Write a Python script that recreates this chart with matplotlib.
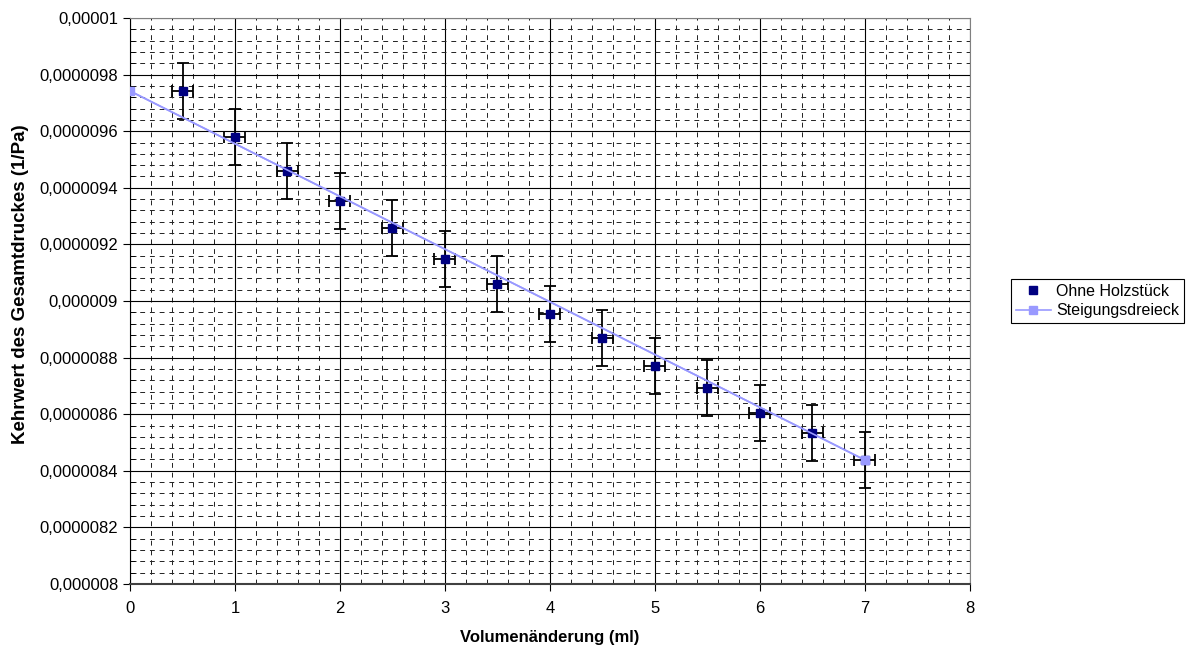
import matplotlib.pyplot as plt
from matplotlib.ticker import MultipleLocator, FuncFormatter

plt.rcParams['font.family'] = ['Liberation Sans', 'DejaVu Sans']

# Messwerte
volumen = [0.5, 1.0, 1.5, 2.0, 2.5, 3.0, 3.5, 4.0, 4.5, 5.0, 5.5, 6.0, 6.5, 7.0]
kehrwert = [9.742e-6, 9.580e-6, 9.459e-6, 9.353e-6, 9.258e-6, 9.148e-6, 9.060e-6,
            8.954e-6, 8.869e-6, 8.770e-6, 8.693e-6, 8.604e-6, 8.534e-6, 8.438e-6]
x_fehler = 0.1
y_fehler = 1.0e-7

# Steigungsdreieck
dreieck_x = [0.0, 7.0]
dreieck_y = [9.742e-6, 8.438e-6]

fig = plt.figure(figsize=(11.96, 6.52), dpi=100)
ax = fig.add_axes([0.1087, 0.1043, 0.7023, 0.8681])

ax.errorbar(volumen, kehrwert, xerr=x_fehler, yerr=y_fehler, fmt='none',
            ecolor='black', elinewidth=1.3, capsize=4, capthick=1.3, zorder=3)
ax.plot(dreieck_x, dreieck_y, color='#9999ff', lw=1.2, zorder=4)
ax.plot(volumen, kehrwert, 's', color='#000080', ms=5.5, zorder=5,
        label='Ohne Holzstück')
ax.plot(dreieck_x, dreieck_y, '-s', color='#9999ff', lw=1.2, ms=5.5, zorder=6,
        label='Steigungsdreieck')

ax.set_xlim(0, 8)
ax.set_ylim(8e-6, 1e-5)
ax.xaxis.set_major_locator(MultipleLocator(1))
ax.xaxis.set_minor_locator(MultipleLocator(0.2))
ax.yaxis.set_major_locator(MultipleLocator(2e-7))
ax.yaxis.set_minor_locator(MultipleLocator(4e-8))


def komma(v, pos):
    s = f'{v:.7f}'.rstrip('0').rstrip('.')
    return s.replace('.', ',')


ax.yaxis.set_major_formatter(FuncFormatter(komma))

ax.grid(which='major', color='black', lw=0.8, ls='-')
ax.grid(which='minor', color='#222222', lw=0.7, ls=(0, (5, 5)))
ax.set_axisbelow(True)

ax.tick_params(axis='both', which='major', direction='out', length=5,
               labelsize=12, color='black')
ax.tick_params(axis='y', which='minor', direction='in', length=4)
ax.tick_params(axis='x', which='minor', length=0)
ax.tick_params(axis='x', pad=7)

for side in ['top', 'right']:
    ax.spines[side].set_color('#808080')
ax.spines['left'].set_color('black')
ax.spines['bottom'].set_color('#404040')
ax.spines['bottom'].set_linewidth(1.5)

ax.set_xlabel('Volumenänderung (ml)', fontsize=12, fontweight='bold', labelpad=10)
ax.set_ylabel('Kehrwert des Gesamtdruckes (1/Pa)', fontsize=13.5, fontweight='bold')
ax.yaxis.set_label_coords(-0.12, 0.53)

leg = ax.legend(loc='center left', bbox_to_anchor=(1.049, 0.5), fontsize=11.5,
                frameon=True, fancybox=False, edgecolor='black', framealpha=1,
                borderaxespad=0, handlelength=2.2, handletextpad=0.3,
                borderpad=0.3, labelspacing=0.3)
leg.get_frame().set_linewidth(0.8)

fig.savefig('out.png', dpi=100)
